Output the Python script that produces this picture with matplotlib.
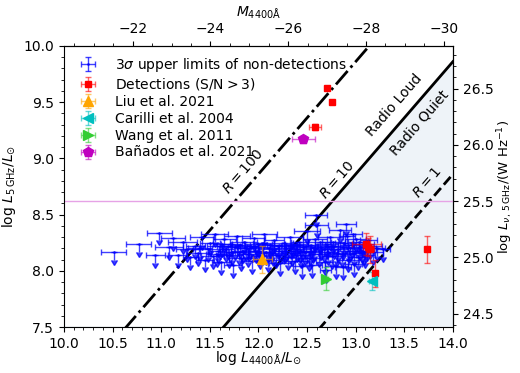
import numpy as np
import matplotlib
matplotlib.use("Agg")
import matplotlib.pyplot as plt
from matplotlib.ticker import AutoMinorLocator, MultipleLocator
import matplotlib.colors as mcolors

# 3 sigma upper limits (non-detections)
ul_x = [10.51, 10.77, 10.98, 10.94, 11.08, 11.17, 11.22, 11.27, 11.30, 11.12,
        11.35, 11.38, 11.42, 11.45, 11.48, 11.50, 11.53, 11.55, 11.58, 11.60,
        11.62, 11.65, 11.67, 11.70, 11.72, 11.74, 11.76, 11.78, 11.80, 11.82,
        11.85, 11.87, 11.89, 11.91, 11.93, 11.95, 11.97, 12.00, 12.02, 12.04,
        12.06, 12.08, 12.10, 12.12, 12.14, 12.16, 12.18, 12.20, 12.22, 12.24,
        12.26, 12.28, 12.30, 12.32, 12.34, 12.36, 12.38, 12.40, 12.42, 12.44,
        12.46, 12.48, 12.50, 12.52, 12.54, 12.56, 12.58, 12.60, 12.62, 12.64,
        12.59, 12.68, 12.70, 12.72, 12.74, 12.76, 12.78, 12.80, 12.82, 12.84,
        12.86, 12.88, 12.90, 12.91, 12.92, 12.94, 12.96, 12.98, 13.00, 13.02,
        13.04, 13.06, 13.08, 13.10, 13.12, 13.15, 13.18, 13.22, 13.28,
        11.40, 11.57, 11.63, 11.69, 11.73, 11.81, 11.84, 11.90, 11.96, 12.01,
        12.05, 12.11, 12.15, 12.21, 12.27, 12.33, 12.39, 12.43, 12.49, 12.53,
        12.57, 12.63, 12.67, 12.71, 12.77, 12.81, 12.87, 12.93, 12.97, 13.03,
        13.09, 13.13, 12.69, 12.87, 12.45, 12.55, 12.98]
ul_y = [8.17, 8.24, 8.34, 8.14, 8.21, 8.14, 8.26, 8.19, 8.12, 8.29,
        8.22, 8.16, 8.30, 8.10, 8.19, 8.25, 8.13, 8.33, 8.18, 8.22,
        8.08, 8.28, 8.19, 8.14, 8.24, 8.05, 8.21, 8.31, 8.17, 8.11,
        8.26, 8.20, 8.15, 8.22, 8.09, 8.29, 8.18, 8.24, 8.13, 8.21,
        8.33, 8.17, 8.10, 8.23, 8.19, 8.27, 8.14, 8.22, 8.07, 8.18,
        8.25, 8.20, 8.12, 8.30, 8.16, 8.23, 8.09, 8.19, 8.26, 8.14,
        8.21, 8.17, 8.35, 8.11, 8.23, 8.18, 8.28, 8.41, 8.15, 8.21,
        8.50, 8.08, 8.24, 8.17, 8.30, 8.13, 8.22, 8.04, 8.19, 8.36,
        8.15, 8.25, 8.42, 8.31, 8.10, 8.20, 8.23, 8.16, 8.28, 8.12,
        8.21, 8.18, 8.24, 8.14, 8.20, 8.22, 8.17, 8.20, 8.19,
        8.20, 8.15, 8.24, 8.22, 8.17, 8.23, 8.18, 8.20, 8.22, 8.17,
        8.25, 8.20, 8.16, 8.23, 8.18, 8.22, 8.24, 8.18, 8.22, 8.17,
        8.20, 8.26, 8.19, 8.22, 8.26, 8.16, 8.21, 8.18, 8.33, 8.26,
        8.17, 8.27, 8.01, 8.03, 8.04, 8.05, 8.06]
ul_xerr = [0.13, 0.13, 0.13, 0.10, 0.14, 0.10, 0.15, 0.12, 0.08, 0.12,
           0.10, 0.13, 0.12, 0.09, 0.15, 0.10, 0.12, 0.14, 0.09, 0.13,
           0.10, 0.12, 0.08, 0.14, 0.11, 0.09, 0.12, 0.13, 0.10, 0.12,
           0.14, 0.09, 0.11, 0.13, 0.10, 0.12, 0.08, 0.14, 0.10, 0.12,
           0.13, 0.09, 0.11, 0.12, 0.14, 0.10, 0.12, 0.08, 0.11, 0.13,
           0.10, 0.12, 0.09, 0.14, 0.11, 0.10, 0.12, 0.13, 0.09, 0.11,
           0.12, 0.10, 0.13, 0.11, 0.14, 0.09, 0.12, 0.12, 0.10, 0.11,
           0.11, 0.09, 0.12, 0.10, 0.13, 0.11, 0.09, 0.12, 0.10, 0.11,
           0.12, 0.09, 0.10, 0.08, 0.11, 0.10, 0.12, 0.09, 0.11, 0.10,
           0.12, 0.09, 0.11, 0.10, 0.09, 0.12, 0.10, 0.08, 0.07,
           0.12, 0.11, 0.10, 0.12, 0.13, 0.10, 0.12, 0.11, 0.10, 0.12,
           0.11, 0.10, 0.13, 0.12, 0.11, 0.10, 0.12, 0.11, 0.12, 0.10,
           0.11, 0.12, 0.10, 0.11, 0.12, 0.10, 0.11, 0.12, 0.10, 0.11,
           0.10, 0.09, 0.06, 0.08, 0.09, 0.10, 0.09]

# detections (S/N > 3)
det_x = [12.70, 12.76, 12.58, 13.11, 13.13, 13.15, 13.20, 13.735]
det_y = [9.63, 9.50, 9.28, 8.24, 8.21, 8.19, 7.98, 8.19]
det_xerr = [0.0, 0.0, 0.06, 0.15, 0.05, 0.04, 0.0, 0.0]
det_yerr = [0.0, 0.0, 0.03, 0.10, 0.08, 0.12, 0.12, 0.12]

# literature objects: x, y, xerr, yerr
liu = [12.04, 8.105, 0.10, 0.12]
carilli = [13.17, 7.91, 0.03, 0.08]
wang = [12.69, 7.93, 0.03, 0.10]
banados = [12.46, 9.17, 0.12, 0.03]

R_vals = [100, 10, 1]
R_style = ['-.', '-', '--']
k_R = -5.14          # log L5GHz = log L4400 + log R + k_R
off_right = 16.88    # log L_nu,5GHz - log L5GHz/Lsun
M_zero = 4.765       # M_4400 = M_zero - 2.5 log L4400

fig = plt.figure(figsize=(5.2, 3.73), dpi=100)
ax = fig.add_axes([0.123, 0.123, 0.748, 0.754])

xx = np.array([10.0, 14.0])
ax.fill_between(xx, 7.5, xx + np.log10(10) + k_R, color='#eef3f8', zorder=0)
for R, ls in zip(R_vals, R_style):
    ax.plot(xx, xx + np.log10(R) + k_R, color='k', ls=ls, lw=2, zorder=1)

ax.axhline(25.5 - off_right, color='#e6a3e6', lw=1, zorder=1)


def ebar(x, y, xerr, yerr, c, m, ms, label, **kw):
    return ax.errorbar(x, y, xerr=xerr, yerr=yerr, fmt=m, color=c, ms=ms,
                       ecolor=mcolors.to_rgba(c, 0.6), elinewidth=1,
                       capsize=2.5, label=label, **kw)


ebar(ul_x, ul_y, ul_xerr, 0.07, 'b', '.', 2, r'3$\sigma$ upper limits of non-detections',
     uplims=True, alpha=0.75, zorder=3)
ebar(det_x, det_y, det_xerr, det_yerr, 'r', 's', 5, r'Detections (S/N$>3$)', zorder=4)
ebar(liu[0], liu[1], liu[2], liu[3], 'orange', '^', 7, 'Liu et al. 2021', zorder=4)
ebar(carilli[0], carilli[1], carilli[2], carilli[3], 'c', '<', 7, 'Carilli et al. 2004', zorder=4)
ebar(wang[0], wang[1], wang[2], wang[3], 'limegreen', '>', 7, 'Wang et al. 2011', zorder=4)
ebar(banados[0], banados[1], banados[2], banados[3], 'm', 'p', 7, 'Bañados et al. 2021', zorder=4)

ax.text(11.84, 8.88, r'$R=100$', rotation=49, ha='center', va='center', fontsize=10)
ax.text(12.81, 8.81, r'$R=10$', rotation=49, ha='center', va='center', fontsize=10)
ax.text(13.74, 8.79, r'$R=1$', rotation=49, ha='center', va='center', fontsize=10)
ax.text(13.40, 9.475, 'Radio Loud', rotation=49, ha='center', va='center', fontsize=10)
ax.text(13.66, 9.315, 'Radio Quiet', rotation=49, ha='center', va='center', fontsize=10)

ax.set_xlim(10, 14)
ax.set_ylim(7.5, 10)
ax.xaxis.set_major_locator(MultipleLocator(0.5))
ax.yaxis.set_major_locator(MultipleLocator(0.5))
ax.xaxis.set_minor_locator(AutoMinorLocator(5))
ax.yaxis.set_minor_locator(AutoMinorLocator(5))
ax.set_xlabel(r'$\log\,L_{4400\mathrm{\AA}}/L_{\odot}$', fontsize=10, labelpad=-1)
ax.set_ylabel(r'$\log\,L_{\rm 5\,GHz}/L_{\odot}$', fontsize=10)

top = ax.secondary_xaxis('top', functions=(lambda x: M_zero - 2.5 * x,
                                            lambda m: (M_zero - m) / 2.5))
top.xaxis.set_major_locator(MultipleLocator(2))
top.xaxis.set_minor_locator(MultipleLocator(0.5))
top.set_xlabel(r'$M_{4400\mathrm{\AA}}$', fontsize=10)

right = ax.secondary_yaxis('right', functions=(lambda y: y + off_right,
                                               lambda y: y - off_right))
right.yaxis.set_major_locator(MultipleLocator(0.5))
right.yaxis.set_minor_locator(MultipleLocator(0.1))
right.set_ylabel(r'$\log\,L_{\nu,\,5\,\mathrm{GHz}}/(\mathrm{W\ Hz^{-1}})$', fontsize=9.5,
                 labelpad=1)

ax.legend(loc='upper left', frameon=False, fontsize=10, labelspacing=0.2,
          handletextpad=1.0, borderaxespad=0.3)

fig.savefig('out.png', dpi=100)
